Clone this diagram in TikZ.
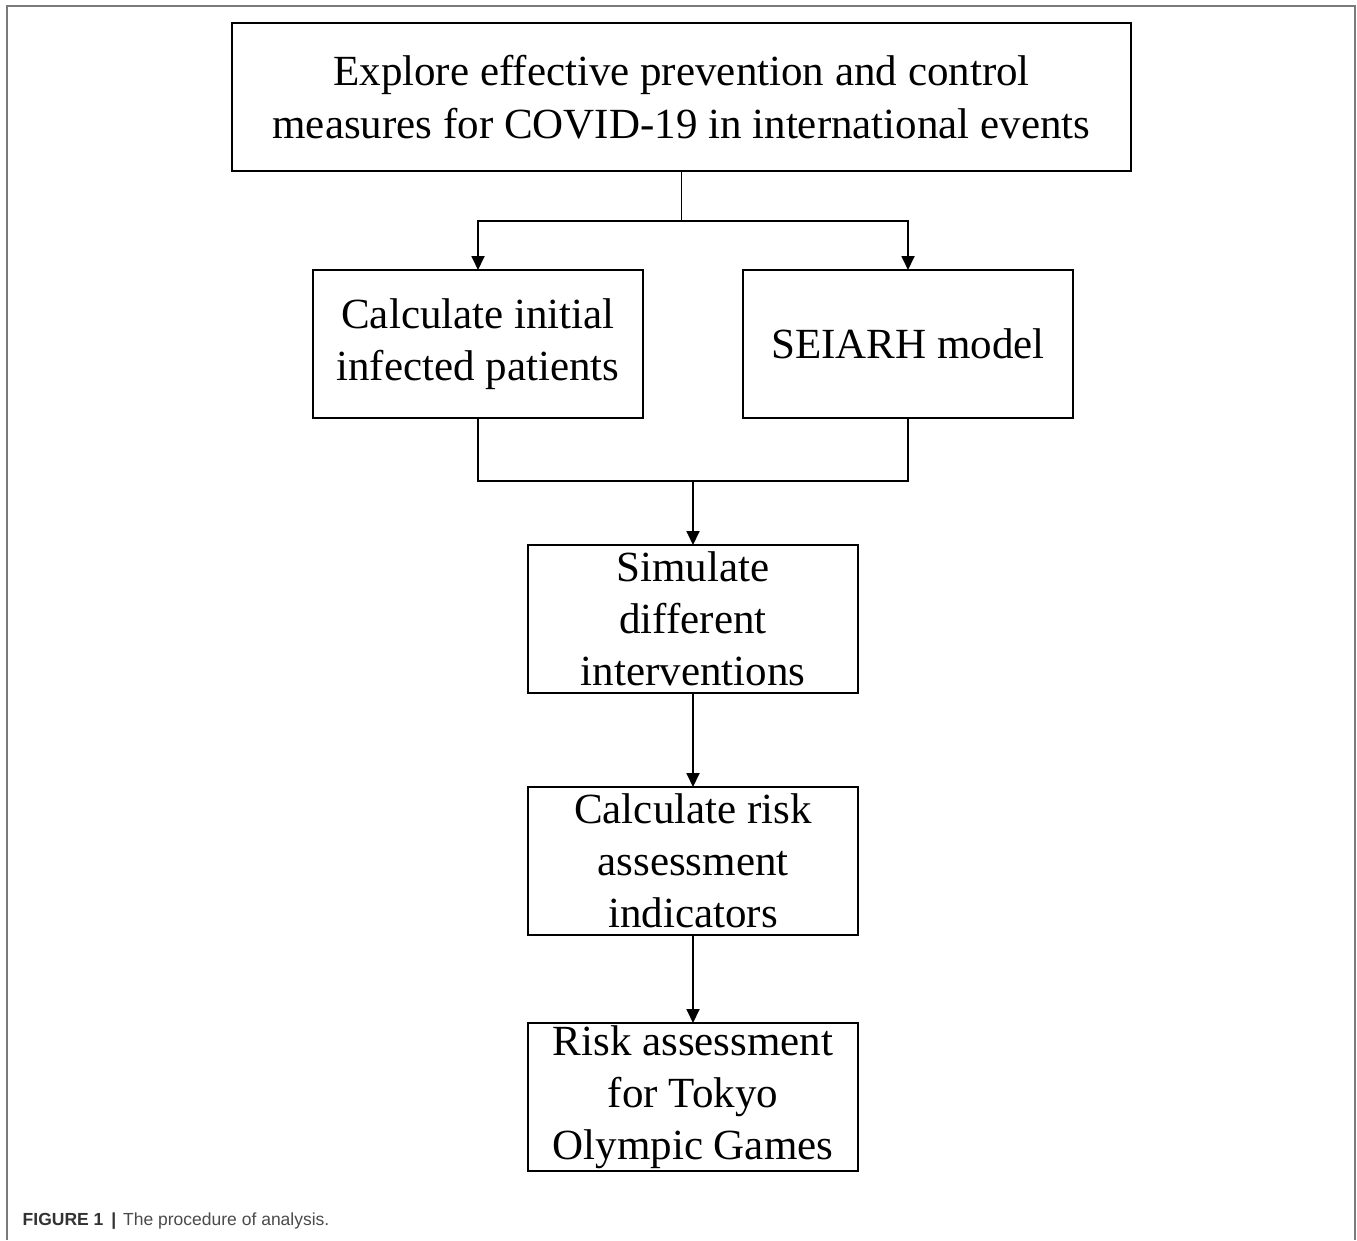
\documentclass[tikz,border=0pt]{standalone}
\usepackage{fontspec}
\setmainfont{Liberation Serif}
\newfontfamily\capfont{Liberation Sans}
\usetikzlibrary{arrows.meta,positioning,calc}
\definecolor{framegray}{HTML}{7A7A7A}
\definecolor{captxt}{HTML}{4A4A4A}
\definecolor{capbold}{HTML}{333333}

\begin{document}
\begin{tikzpicture}[x=1pt, y=1pt, font=\fontsize{43}{52}\selectfont]
  \tikzset{
    topbox/.style={draw, line width=1.8pt, outer sep=0pt, minimum width=899pt, minimum height=148pt, inner sep=0pt, align=center},
    midbox/.style={draw, line width=1.8pt, outer sep=0pt, minimum width=330pt, minimum height=148pt, inner sep=0pt, align=center},
    link/.style={line width=1.8pt},
    arr/.style={link, -{Triangle[width=13pt,length=14pt]}},
  }
  \useasboundingbox (0,0) rectangle (1357,-1240);
  \draw[framegray, line width=2pt] (7,-1240) |- (1355,-6) -- (1355,-1240);

  \node[topbox, font=\fontsize{43}{53}\selectfont] (goal) at (681.5,-97)
    {Explore effective prevention and control\\measures for COVID-19 in international events};
  \node[midbox, below=99pt of goal, xshift=-203.5pt] (initial) {Calculate initial\\infected patients};
  \node[midbox, below=99pt of goal, xshift=226.5pt] (model) {SEIARH model};
  \coordinate (split) at ($(goal.south)+(0,-50)$);
  \coordinate (merge) at ($(initial.south)!0.5!(model.south)+(0,-63)$);
  \node[midbox, below=64pt of merge] (simulate) {Simulate\\different\\interventions};
  \node[midbox, below=94pt of simulate] (indic) {Calculate risk\\assessment\\indicators};
  \node[midbox, below=88pt of indic] (tokyo) {Risk assessment\\for Tokyo\\Olympic Games};

  \draw[link] (goal.south) -- (split);
  \draw[arr] (split) -| (initial.north);
  \draw[arr] (split) -| (model.north);
  \draw[link] (initial.south) |- (merge) -| (model.south);
  \draw[arr] (merge) -- (simulate.north);
  \draw[arr] (simulate) -- (indic);
  \draw[arr] (indic) -- (tokyo);

  \node[anchor=base west, inner sep=0pt, font=\capfont\fontsize{17.5}{21}\selectfont, text=captxt] (caption) at (22.5,-1225)
    {\textcolor{capbold}{\bfseries FIGURE 1\hspace{0.45em}|}\hspace{0.4em}The procedure of analysis.};
\end{tikzpicture}
\end{document}
